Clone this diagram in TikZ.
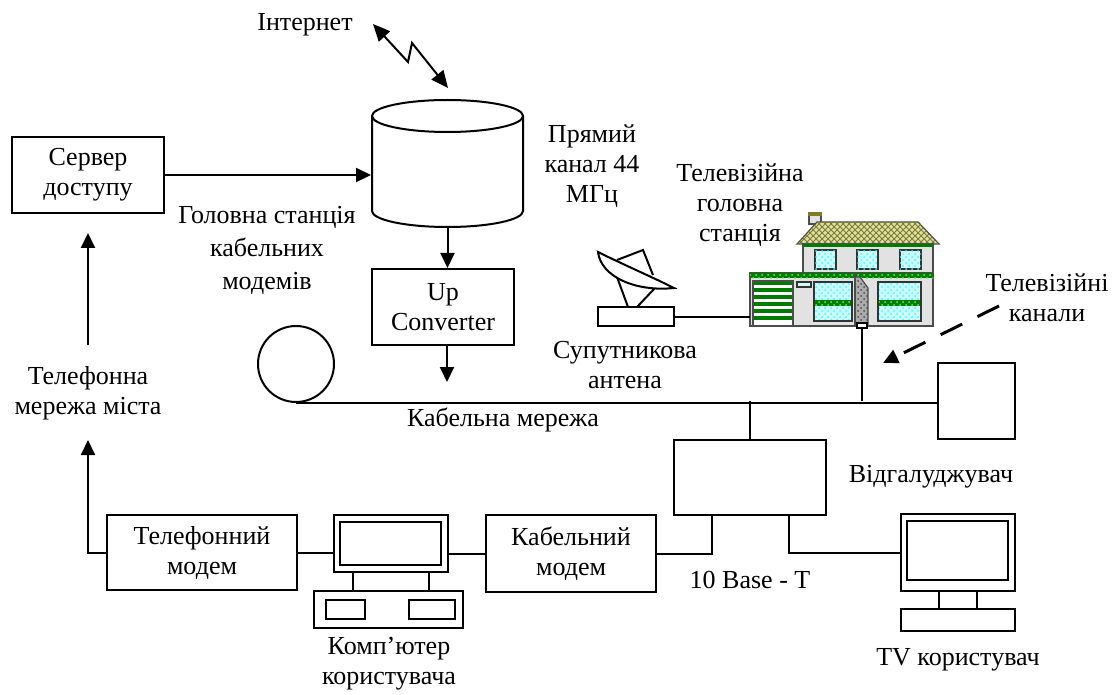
\documentclass[tikz,border=0pt]{standalone}
\usepackage{fontspec}
\setmainfont{Liberation Serif}
\usetikzlibrary{arrows.meta, calc, positioning, patterns}

\definecolor{roofbeige}{RGB}{222,222,170}
\definecolor{roofolive}{RGB}{125,125,40}
\definecolor{housegreen}{RGB}{0,125,0}
\definecolor{wallgray}{RGB}{226,226,226}
\definecolor{glasscyan}{RGB}{205,250,250}

\begin{document}
\begin{tikzpicture}[x=0.5pt, y=-0.5pt, >={Triangle[length=7.5pt,width=7pt]},
    font=\fontsize{13}{15}\selectfont, line width=1pt,
    box/.style={draw, rectangle, inner sep=0pt, align=center},
    lbl/.style={align=center, inner sep=0pt},
    glass/.style={fill=glasscyan, draw=black!80, line width=0.9pt,
        postaction={pattern=crosshatch dots, pattern color=cyan!80}},
    wall/.style={fill=wallgray, draw=black!70, line width=0.6pt}]

        \useasboundingbox (0,0) rectangle (1118,695);

        % head end
        \node[box, minimum width=76pt, minimum height=38pt] (server) at (88,175) {Сервер\\доступу};
        \node[inner sep=0pt, minimum width=75.5pt, minimum height=63.5pt] (hub) at (447.5,163.5) {};
        \draw[fill=white] (372,116) -- (372,211) arc[start angle=180, end angle=360, x radius=37.75pt, y radius=8pt] -- (523,116);
        \draw (447.5,116) ellipse[x radius=37.75pt, y radius=8pt];
        \node[box, minimum width=71pt, minimum height=38pt] (upconv) at (443,307) {Up\\Converter};

        \draw[->] (server.east) -- (server.east -| hub.west);
        \draw[->] (hub.south) -- (hub.south |- upconv.north);
        \coordinate (feed) at (447,382);
        \draw[->] (upconv.south -| feed) -- (feed);

        % internet link
        \coordinate (inetA) at (373,24);
        \coordinate (inetB) at (448,88);
        \draw[{Triangle[length=8.5pt,width=7.5pt]}-{Triangle[length=8.5pt,width=7.5pt]}]
            (inetA) -- (408,62) -- (412,43) -- (inetB);

        % cable line
        \node[draw, circle, inner sep=0pt, minimum size=38pt] (loop) at (296,364) {};
        \node[box, minimum width=38.5pt, minimum height=38pt] (tap) at (976.5,401) {};
        \draw (loop.south) -- (loop.south -| tap.west);

        % satellite dish
        \node[box, minimum width=38pt, minimum height=9.5pt] (dishbase) at (636,316.5) {};
        \draw (617,277) -- (628,307);
        \draw (655,288) -- (637,307);
        \draw[fill=white] (598,252) .. controls (601,277) and (636,292) .. (674,288)
            .. controls (650,276) and (622,264) .. (598,252) -- cycle;
        \draw (617,260) -- (643,250) -- (653,275);

        % tv head end building
        \filldraw[wall] (809,215) rectangle (821,224);
        \fill[roofolive] (808,212) rectangle (822,216);
        \filldraw[fill=roofbeige, draw=black!70, line width=0.6pt,
            postaction={pattern=crosshatch, pattern color=roofolive}] (797,244) -- (817,222) -- (918,222) -- (939,244) -- cycle;
        \filldraw[wall] (803,244) rectangle (933,273);
        \fill[housegreen] (803,244) rectangle (933,247);
        \foreach \wx in {815,857,900}
            \filldraw[glass] (\wx,250) rectangle +(21,19);
        \filldraw[wall] (750,273) rectangle (933,326);
        \fill[housegreen, postaction={pattern=crosshatch dots, pattern color=green!70}] (750,273) rectangle (933,278);
        \fill[white] (753,281) rectangle (793,326);
        \foreach \gy in {281,288,...,322}
            \fill[housegreen] (753,\gy) rectangle (793,\gy+4);
        \draw[black!70, line width=0.6pt] (753,281) rectangle (793,326);
        \filldraw[fill=glasscyan, draw=black!80, line width=0.6pt] (797,282) rectangle (811,287);
        \foreach \wx/\ww in {814/38,878/43} {
            \filldraw[glass] (\wx,282) rectangle +(\ww,39);
            \fill[housegreen, postaction={pattern=crosshatch dots, pattern color=green!70}] (\wx,300) rectangle +(\ww,6);
            \draw[black!80, line width=0.9pt] (\wx,282) rectangle +(\ww,39);
        }
        \filldraw[fill=gray!65, draw=black!70, line width=0.6pt,
            postaction={pattern=crosshatch dots, pattern color=black!70}] (855,277) -- (860,277) -- (868,288) -- (868,325) -- (855,325) -- cycle;
        \draw[black!70, line width=0.6pt] (855,273) -- (855,326);
        \filldraw[fill=white, draw=black, line width=0.6pt] (857,323) rectangle (867,328);
        \coordinate (housefoot) at (862,328);
        \coordinate (housewest) at (750,316.5);

        \draw (dishbase.east) -- (housewest);
        \draw (housefoot) -- (housefoot |- tap.west);

        \coordinate (tvsrc) at (999,306);
        \coordinate (tvdst) at (883,363);
        \draw[->, line width=1.5pt, dash pattern=on 12pt off 8.5pt] (tvsrc) -- (tvdst);

        % subscriber side
        \node[box, minimum width=76pt, minimum height=37.5pt] (splitter) at (750,477.5) {};
        \draw (splitter.north) -- (splitter.north |- tap.west);
        \node[box, minimum width=85pt, minimum height=38.5pt] (cmodem) at (571,553.5) {Кабельний\\модем};
        \node[box, minimum width=95pt, minimum height=37.5pt] (pmodem) at (202,552.5) {Телефонний\\модем};

        % user computer
        \node[box, minimum width=57pt, minimum height=28.5pt] (pc) at (391,543.5) {};
        \draw ($(pc.north west)+(7,8)$) rectangle ($(pc.south east)+(-8,-8)$);
        \draw (353,572) rectangle (429,591);
        \draw (314,591) rectangle (463,628);
        \draw (326,600) rectangle (365,619);
        \draw (409,600) rectangle (455,619);

        % tv set
        \node[box, minimum width=57pt, minimum height=38.5pt] (tv) at (958,552.5) {};
        \draw ($(tv.north west)+(7,8)$) rectangle ($(tv.south east)+(-8,-12)$);
        \draw (939,591) rectangle (977,609);
        \draw (901,609) rectangle (1015,631);

        \draw ($(splitter.south west)!.25!(splitter.south east)$) |- (cmodem.east);
        \draw ($(splitter.south west)!.75!(splitter.south east)$) |- (tv.west);
        \draw (cmodem.west) -- (cmodem.west -| pc.east);
        \draw (pmodem.east) -- (pmodem.east -| pc.west);

        % phone network back to the server
        \coordinate (telin) at (88,440);
        \coordinate (telout) at (88,345);
        \draw[->] (pmodem.west) -| (telin);
        \draw[->, shorten >=9.5pt] (telout) -- (server.south);

        % labels
        \node[lbl] at (305,25) {Інтернет};
        \node[lbl, font=\fontsize{13}{16.5}\selectfont] at (267,250) {Головна станція\\кабельних\\модемів};
        \node[lbl] at (592,166) {Прямий\\канал 44\\МГц};
        \node[lbl] at (740,205) {Телевізійна\\головна\\станція};
        \node[lbl] at (1047,298) {Телевізійні\\канали};
        \node[lbl] at (625,365) {Супутникова\\антена};
        \node[lbl] at (503,420) {Кабельна мережа};
        \node[lbl] at (931,477) {Відгалуджувач};
        \node[lbl] at (750,580) {10 Base - T};
        \node[lbl] at (958,660) {TV користувач};
        \node[lbl] at (389,664) {Комп’ютер\\користувача};
        \node[lbl] (city) at (88,393) {Телефонна\\мережа міста};

    \end{tikzpicture}
\end{document}
